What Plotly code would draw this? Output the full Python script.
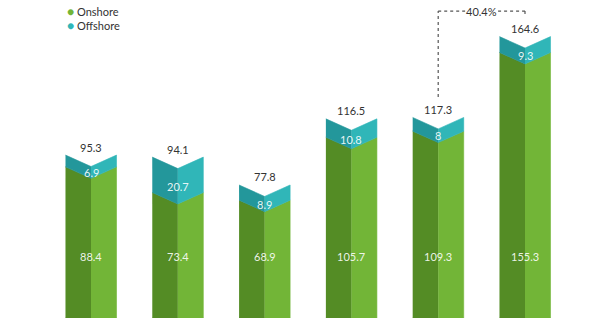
import plotly.graph_objects as go

categories = ["1", "2", "3", "4", "5", "6"]
onshore = [88.4, 73.4, 68.9, 105.7, 109.3, 155.3]
offshore = [6.9, 20.7, 8.9, 10.8, 8, 9.3]
totals = [95.3, 94.1, 77.8, 116.5, 117.3, 164.6]
growth_label = "40.4%"

W = 0.294      # half bar width (x units)
D = 6.7        # chevron depth (y units)
ON_LABEL_Y = 35.7
FONT = "Lato, 'Open Sans', sans-serif"

GREEN_DARK = "#548c25"
GREEN_LIGHT = "#72b537"
TEAL_DARK = "#23979b"
TEAL_LIGHT = "#30b6b8"

fig = go.Figure()

def face(xs, ys, color):
    fig.add_trace(go.Scatter(x=xs, y=ys, fill="toself", fillcolor=color, mode="lines",
                             line=dict(width=0.6, color=color), hoverinfo="skip", showlegend=False))

for i in range(len(categories)):
    on = onshore[i]
    tot = on + offshore[i]
    # onshore faces
    face([i - W, i, i, i - W], [0, 0, on - D, on], GREEN_DARK)
    face([i, i + W, i + W, i], [0, 0, on, on - D], GREEN_LIGHT)
    # offshore faces
    face([i - W, i, i, i - W], [on, on - D, tot - D, tot], TEAL_DARK)
    face([i, i + W, i + W, i], [on - D, on, tot, tot - D], TEAL_LIGHT)

annotations = []
for i in range(len(categories)):
    on = onshore[i]
    tot = on + offshore[i]
    annotations.append(dict(x=i, y=totals[i] + 4.7, text=f"{totals[i]:g}", showarrow=False,
                            font=dict(family=FONT, size=11, color="#333333")))
    annotations.append(dict(x=i, y=(on + tot) / 2 - D, text=f"{offshore[i]:g}", showarrow=False,
                            font=dict(family=FONT, size=11, color="rgba(255,255,255,0.9)")))
    annotations.append(dict(x=i, y=ON_LABEL_Y, text=f"{onshore[i]:g}", showarrow=False,
                            font=dict(family=FONT, size=11, color="rgba(255,255,255,0.9)")))

# growth bracket between last two bars
a, b = 4, 5
top_y = 179.5
line = dict(color="#555555", width=1.2, dash="dot")
fig.add_shape(type="line", x0=a, x1=a, y0=totals[a] + 12, y1=top_y, line=line)
fig.add_shape(type="line", x0=a, x1=(a + b) / 2 - 0.19, y0=top_y, y1=top_y, line=line)
fig.add_shape(type="line", x0=(a + b) / 2 + 0.19, x1=b, y0=top_y, y1=top_y, line=line)
fig.add_shape(type="line", x0=b, x1=b, y0=top_y, y1=top_y - 3.5, line=line)
annotations.append(dict(x=(a + b) / 2, y=top_y, text=growth_label, showarrow=False,
                        font=dict(family=FONT, size=11, color="#333333")))

# legend
for label, color, ypx in [("Onshore", GREEN_LIGHT, 12), ("Offshore", TEAL_LIGHT, 26)]:
    annotations.append(dict(xref="paper", yref="paper", x=0.108, y=1 - ypx / 318,
                            xanchor="left", yanchor="middle",
                            text=f'<span style="color:{color};font-size:12px">●</span> {label}',
                            showarrow=False, font=dict(family=FONT, size=11, color="#333333")))

fig.update_layout(
    width=600, height=320,
    margin=dict(l=0, r=0, t=0, b=2),
    paper_bgcolor="white", plot_bgcolor="white",
    xaxis=dict(range=[-91 / 86.8, (600 - 91) / 86.8], visible=False, fixedrange=True),
    yaxis=dict(range=[0, 186], visible=False, fixedrange=True),
    annotations=annotations,
    showlegend=False,
)

fig.write_html("out.html")
